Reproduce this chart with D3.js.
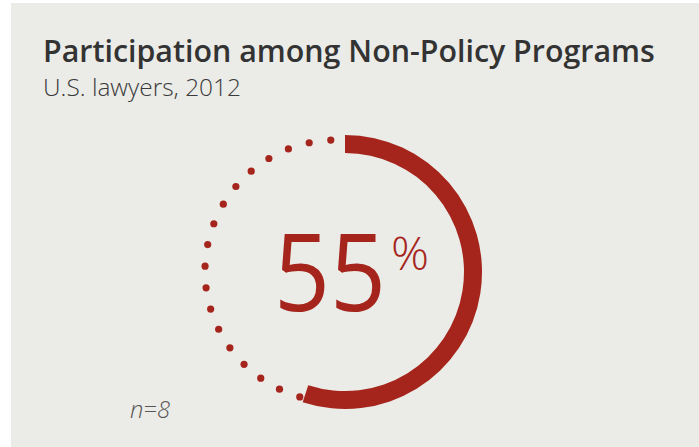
<!DOCTYPE html>
<html><head><meta charset="utf-8">
<script src="https://cdn.jsdelivr.net/npm/d3@7"></script>
<style>html,body{margin:0;padding:0;background:#fff;}svg{display:block;}</style>
</head><body>
<script>
const title = "Participation among Non-Policy Programs";
const subtitle = "U.S. lawyers, 2012";
const note = "n=8";
const values = [55];          // percent participating
const labels = ["55"];
const unit = ["%"];
const dotCount = [19];

const W = 699, H = 447;
const red = "#a5251c";
const svg = d3.select("body").append("svg").attr("width", W).attr("height", H);
svg.append("rect").attr("x", 11).attr("y", 3).attr("width", W - 11).attr("height", H - 3).attr("fill", "#ebebe7");

function fit(sel, w) {
  const len = sel.node().getComputedTextLength();
  const fs = parseFloat(sel.attr("font-size"));
  sel.attr("font-size", fs * w / len);
}
function squeeze(sel, x, y, w) {
  const len = sel.node().getComputedTextLength();
  sel.attr("transform", `translate(${x},${y}) scale(${w / len},1)`);
}
const t = svg.append("text").attr("x", 43).attr("y", 62).attr("font-family", "'Open Sans', sans-serif")
  .attr("font-weight", 600).attr("font-size", 28).attr("fill", "#333").text(title);
fit(t, 612);
const s = svg.append("text").attr("x", 43).attr("y", 96).attr("font-family", "'Open Sans', sans-serif")
  .attr("font-weight", 300).attr("font-size", 22).attr("fill", "#3a3a3a").text(subtitle);
fit(s, 198);

const angle = d3.scaleLinear().domain([0, 100]).range([0, 2 * Math.PI]);
const endA = angle(values[0]);

// dotted remainder
const dc = {x: 336, y: 271, r: 131};
const dotAngles = d3.range(dotCount[0]).map(i => d3.scaleLinear().domain([0, dotCount[0] - 1]).range([endA - 0.2, 2 * Math.PI - 0.04])(i));
svg.append("g").selectAll("circle").data(dotAngles).join("circle")
  .attr("cx", a => dc.x + dc.r * Math.sin(a))
  .attr("cy", a => dc.y - dc.r * Math.cos(a))
  .attr("r", 3.6).attr("fill", red);

const g = svg.append("g").attr("transform", "translate(345,272)");
g.append("path").attr("d", d3.arc().innerRadius(119).outerRadius(137).startAngle(0).endAngle(endA)()).attr("fill", red);

const big = svg.append("text").attr("font-family", "'Open Sans', sans-serif").attr("fill", red)
  .attr("font-weight", 400).attr("font-size", 108).text(labels[0]);
squeeze(big, 274, 311, 112);
const pct = svg.append("text").attr("font-family", "'Open Sans', sans-serif").attr("fill", red)
  .attr("font-weight", 300).attr("font-size", 46).text(unit[0]);
squeeze(pct, 391, 270, 38);

const n = svg.append("text").attr("x", 130).attr("y", 418).attr("font-family", "'Open Sans', sans-serif")
  .attr("font-style", "italic").attr("font-weight", 300).attr("font-size", 20).attr("fill", "#555").text(note);
fit(n, 40);
</script>
</body></html>
